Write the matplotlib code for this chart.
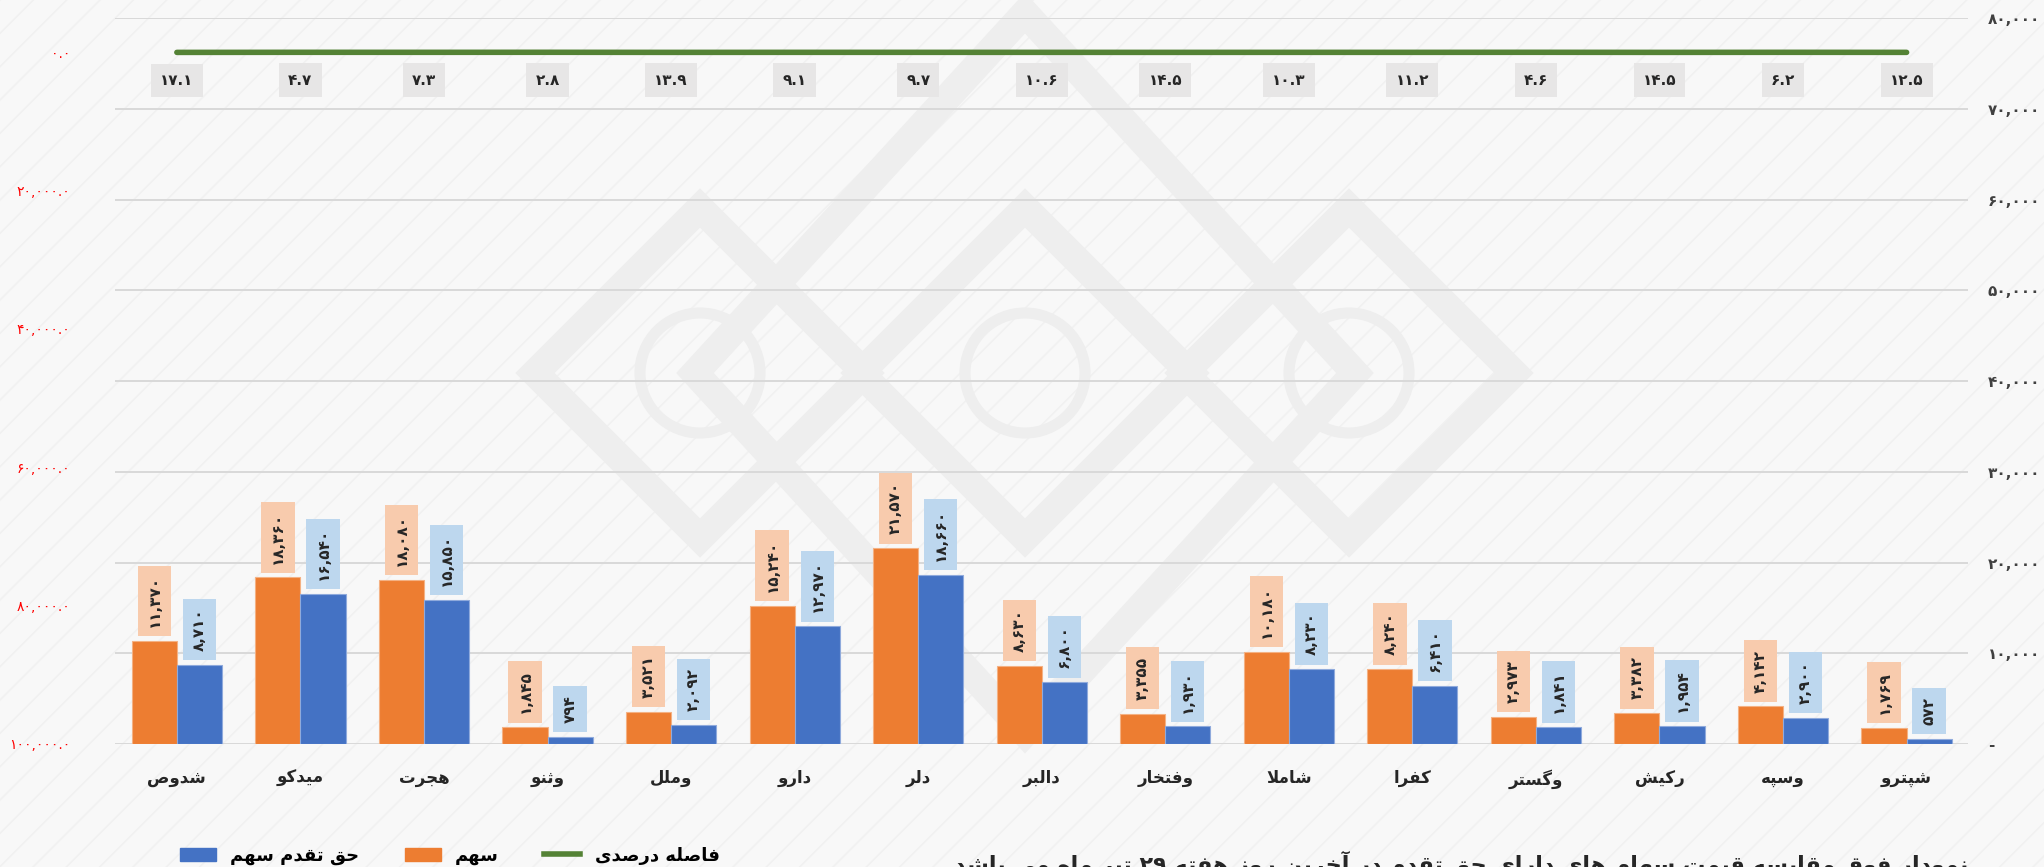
import re
import numpy as np
import matplotlib
matplotlib.use("Agg")
import matplotlib.pyplot as plt
from matplotlib.patches import Patch, Rectangle, Polygon, Circle
from matplotlib.lines import Line2D
from matplotlib.transforms import IdentityTransform

# ---- data (left to right as in the picture) ----
symbols = ['شدوص', 'میدکو', 'هجرت', 'وثنو', 'وملل', 'دارو', 'دلر', 'دالبر',
           'وفتخار', 'شاملا', 'کفرا', 'وگستر', 'رکیش', 'وسپه', 'شپترو']
share_price = [11370, 18360, 18080, 1845, 3521, 15240, 21570, 8630,
               3355, 10180, 8240, 2973, 3382, 4142, 1769]
right_price = [8710, 16540, 15850, 794, 2092, 12970, 18660, 6800,
               1930, 8230, 6410, 1841, 1954, 2900, 572]
gap_pct = [17.1, 4.7, 7.3, 2.8, 13.9, 9.1, 9.7, 10.6, 14.5, 10.3, 11.2, 4.6, 14.5, 6.2, 12.5]

legend_labels = ['حق تقدم سهم', 'سهم', 'فاصله درصدی']
note = 'نمودار فوق مقایسه قیمت سهام های دارای حق تقدم در آخرین روز هفته ۲۹ تیر ماه می باشد'

ORANGE = '#ed7d31'
BLUE = '#4472c4'
GREEN = '#548235'

# ---- tiny arabic shaper (matplotlib does no shaping / bidi) ----
# isolated, final, initial, medial
FORMS = {
    'ا': ('\uFE8D', '\uFE8E'), 'آ': ('\uFE81', '\uFE82'),
    'د': ('\uFEA9', '\uFEAA'), 'ر': ('\uFEAD', '\uFEAE'),
    'ز': ('\uFEAF', '\uFEB0'), 'و': ('\uFEED', '\uFEEE'),
    'ب': ('\uFE8F', '\uFE90', '\uFE91', '\uFE92'),
    'ت': ('\uFE95', '\uFE96', '\uFE97', '\uFE98'),
    'ث': ('\uFE99', '\uFE9A', '\uFE9B', '\uFE9C'),
    'ج': ('\uFE9D', '\uFE9E', '\uFE9F', '\uFEA0'),
    'ح': ('\uFEA1', '\uFEA2', '\uFEA3', '\uFEA4'),
    'خ': ('\uFEA5', '\uFEA6', '\uFEA7', '\uFEA8'),
    'س': ('\uFEB1', '\uFEB2', '\uFEB3', '\uFEB4'),
    'ش': ('\uFEB5', '\uFEB6', '\uFEB7', '\uFEB8'),
    'ص': ('\uFEB9', '\uFEBA', '\uFEBB', '\uFEBC'),
    'ف': ('\uFED1', '\uFED2', '\uFED3', '\uFED4'),
    'ق': ('\uFED5', '\uFED6', '\uFED7', '\uFED8'),
    'ل': ('\uFEDD', '\uFEDE', '\uFEDF', '\uFEE0'),
    'م': ('\uFEE1', '\uFEE2', '\uFEE3', '\uFEE4'),
    'ن': ('\uFEE5', '\uFEE6', '\uFEE7', '\uFEE8'),
    'ه': ('\uFEE9', '\uFEEA', '\uFEEB', '\uFEEC'),
    'ی': ('\uFBFC', '\uFBFD', '\uFBFE', '\uFBFF'),
    'ک': ('\uFB8E', '\uFB8F', '\uFB90', '\uFB91'),
    'گ': ('\uFB92', '\uFB93', '\uFB94', '\uFB95'),
    'پ': ('\uFB56', '\uFB57', '\uFB58', '\uFB59'),
}
LAM_ALEF = {'ا': ('\uFEFB', '\uFEFC'), 'آ': ('\uFEF5', '\uFEF6')}


def dual(c):
    return c in FORMS and len(FORMS[c]) == 4


def fa(text):
    chars = list(text)
    out = []
    i = 0
    while i < len(chars):
        c = chars[i]
        if c not in FORMS:
            out.append(c)
            i += 1
            continue
        prev = chars[i - 1] if i > 0 else ''
        join_prev = dual(prev)
        if c == 'ل' and i + 1 < len(chars) and chars[i + 1] in LAM_ALEF:
            out.append(LAM_ALEF[chars[i + 1]][1 if join_prev else 0])
            i += 2
            continue
        nxt = chars[i + 1] if i + 1 < len(chars) else ''
        join_next = dual(c) and nxt in FORMS
        f = FORMS[c]
        if join_prev and join_next:
            out.append(f[3])
        elif join_prev:
            out.append(f[1])
        elif join_next:
            out.append(f[2])
        else:
            out.append(f[0])
        i += 1
    s = ''.join(out)[::-1]
    return re.sub(r'[۰-۹0-9.,]+', lambda m: m.group(0)[::-1], s)


PD = str.maketrans('0123456789', '۰۱۲۳۴۵۶۷۸۹')


def pnum(s):
    return s.translate(PD)


plt.rcParams['font.family'] = ['DejaVu Sans']
plt.rcParams['hatch.linewidth'] = 1.2

W, H = 2044, 867
fig = plt.figure(figsize=(W / 100, H / 100), dpi=100, facecolor='#f8f8f8')
# faint diagonal stripes of the background
fig.patches.append(Rectangle((0, 0), 1, 1, transform=fig.transFigure, facecolor='none',
                             edgecolor='#f1f1f1', hatch='/', lw=0, zorder=-10))

# watermark logo (rough), pixel coords from top-left
wm = '#eeeeee'
for cx, cy in [(700, 373), (1025, 373), (1349, 373)]:
    yy = H - cy
    fig.patches.append(Polygon([(cx, yy + 165), (cx + 165, yy), (cx, yy - 165), (cx - 165, yy)],
                               closed=True, fill=False, ec=wm, lw=20, joinstyle='miter',
                               transform=IdentityTransform(), zorder=-9))
    fig.patches.append(Circle((cx, yy), 60, fill=False, ec=wm, lw=8,
                              transform=IdentityTransform(), zorder=-9))
cx, yy = 1025, H - 373
fig.patches.append(Polygon([(cx, yy + 360), (cx + 330, yy), (cx, yy - 360), (cx - 330, yy)],
                           closed=True, fill=False, ec=wm, lw=20, joinstyle='miter',
                           transform=IdentityTransform(), zorder=-9))

ax = fig.add_axes([0.0563, 0.1419, 0.9067, 0.8369])
ax.set_facecolor('none')
x = np.arange(len(symbols))
w = 0.365
bo = ax.bar(x - w / 2, share_price, w, color=ORANGE, edgecolor='#f4b183', lw=0.8, zorder=3)
bb = ax.bar(x + w / 2, right_price, w, color=BLUE, edgecolor='#8faadc', lw=0.8, zorder=3)

for bars, vals, bg in ((bo, share_price, '#f8cbad'), (bb, right_price, '#bdd7ee')):
    for r, v in zip(bars, vals):
        ax.annotate(pnum(f'{v:,}'), (r.get_x() + r.get_width() / 2, v),
                    xytext=(0, 10), textcoords='offset points', rotation=90,
                    ha='center', va='bottom', fontsize=11, fontweight='bold', color='#262626',
                    bbox=dict(boxstyle='square,pad=0.6', fc=bg, ec='none'), zorder=4)

ax.set_xlim(-0.5, len(symbols) - 0.5)
ax.set_ylim(0, 80000)
ax.set_xticks(x)
ax.set_xticklabels([fa(s) for s in symbols], fontsize=12, fontweight='bold', color='#262626')
ax.tick_params(axis='x', length=0, pad=18)
ax.grid(axis='y', color='#d9d9d9', lw=1.4, zorder=0)
for sp in ax.spines.values():
    sp.set_visible(False)

# percentage gap line on the reversed secondary axis
ax2 = ax.twinx()
ax2.plot(x, gap_pct, color=GREEN, lw=4, solid_capstyle='round', zorder=5)
for xi, p in zip(x, gap_pct):
    ax2.annotate(pnum(f'{p}'), (xi, p), xytext=(0, -20), textcoords='offset points',
                 ha='center', va='center', fontsize=11, fontweight='bold', color='#262626',
                 bbox=dict(boxstyle='square,pad=0.6', fc='#e7e6e6', ec='none'))
ax2.set_ylim(100000, -4900)
ax2.set_yticks(np.arange(0, 100001, 20000))
ax2.set_yticklabels([pnum(f'{v:,}.0') for v in range(0, 100001, 20000)])
ax2.yaxis.tick_left()
ax2.tick_params(axis='y', length=0, pad=32, labelsize=10, labelcolor='#ff0000')
for sp in ax2.spines.values():
    sp.set_visible(False)

# right-hand price axis (set after twinx, which moves ticks)
ax.yaxis.tick_right()
ax.set_yticks(np.arange(0, 80001, 10000))
ax.set_yticklabels(['-'] + [pnum(f'{v:,}') for v in range(10000, 80001, 10000)])
ax.tick_params(axis='y', length=0, pad=14, labelsize=11, labelcolor='#404040')
for t in ax.get_yticklabels():
    t.set_fontweight('bold')

handles = [Patch(color=BLUE), Patch(color=ORANGE), Line2D([], [], color=GREEN, lw=4)]
fig.legend(handles, [fa(s) for s in legend_labels], loc='center', ncol=3,
           bbox_to_anchor=(0.22, 0.013), frameon=False,
           prop={'size': 13, 'weight': 'bold'}, handlelength=2, columnspacing=2.5)

fig.text(0.963, 0.004, fa(note), ha='right', va='center', fontsize=16, fontweight='bold',
         color='#262626')

fig.savefig('out.png', dpi=100, facecolor=fig.get_facecolor())
